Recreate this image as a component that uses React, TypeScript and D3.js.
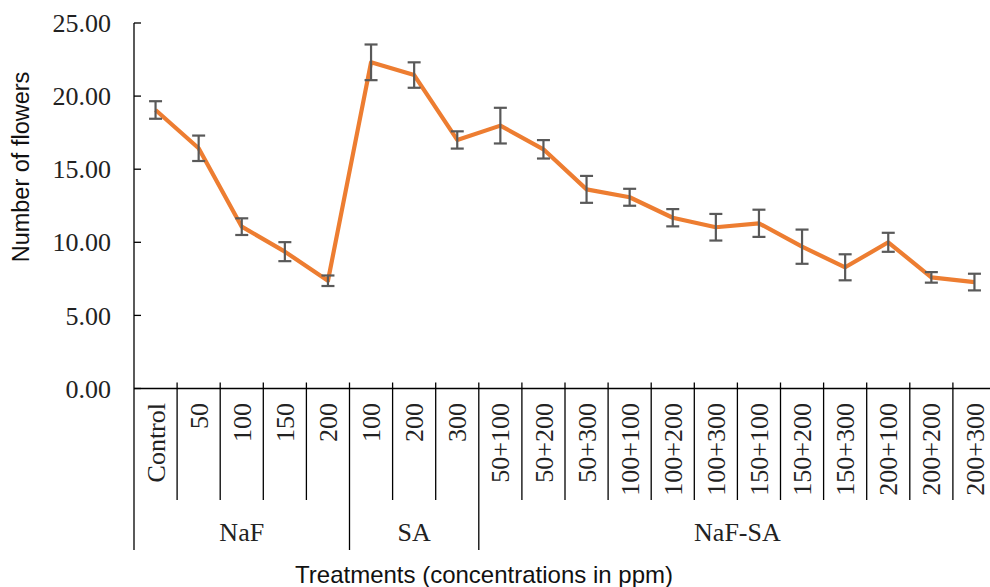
import React from 'react';
import * as d3 from 'd3';

// treatment labels (x axis, rotated)
const treatments = [
    'Control', '50', '100', '150', '200',
    '100', '200', '300',
    '50+100', '50+200', '50+300', '100+100', '100+200', '100+300',
    '150+100', '150+200', '150+300', '200+100', '200+200', '200+300'
];

// mean number of flowers and error (±)
const flowers = [
    19.05, 16.43, 11.07, 9.36, 7.37,
    22.31, 21.44, 17.0,
    17.98, 16.36, 13.62, 13.08, 11.68, 11.03,
    11.3, 9.7, 8.29, 10.0, 7.6, 7.28
];
const errors = [
    0.6, 0.87, 0.57, 0.65, 0.36,
    1.22, 0.87, 0.59,
    1.22, 0.63, 0.92, 0.58, 0.59, 0.91,
    0.93, 1.17, 0.89, 0.65, 0.36, 0.57
];

// treatment groups (first and last treatment index)
const groupNames = ['NaF', 'SA', 'NaF-SA'];
const groupStart = [0, 5, 8];
const groupEnd = [4, 7, 19];

const yTicks = [0, 5, 10, 15, 20, 25];

const SERIF = '"Liberation Serif", "Times New Roman", serif';
const SANS = '"Liberation Sans", Arial, sans-serif';

const App = () => {
    const width = 990, height = 587;
    const left = 134, right = 996, top = 23, bottom = 388.5;

    const keys = treatments.map((_, i) => String(i));
    const x = d3.scaleBand().domain(keys).range([left, right]).padding(0);
    const y = d3.scaleLinear().domain([0, 25]).range([bottom, top]);
    const bw = x.bandwidth();
    const cx = (i: number) => (x(String(i)) as number) + bw / 2;

    const line = d3.line<number>()
        .x((_, i) => cx(i))
        .y((d) => y(d));

    const groupEdges = groupStart.slice(1).map((s) => x(String(s)) as number);

    return (
        <div style={{ position: 'absolute', left: 0, top: 0, width, height, overflow: 'hidden', background: '#fff' }}>
            <svg width={width} height={height} style={{ display: 'block' }}>
                {/* y axis */}
                <line x1={left} x2={left} y1={top} y2={550} stroke="#000" strokeWidth={1.3} />
                {yTicks.map((t) => (
                    <g key={t}>
                        <line x1={left} x2={left + 7} y1={y(t)} y2={y(t)} stroke="#000" strokeWidth={1.3} />
                        <text x={111} y={y(t)} dy="0.35em" textAnchor="end"
                            style={{ fontFamily: SERIF, fontSize: 26 }} fill="#222">
                            {d3.format('.2f')(t)}
                        </text>
                    </g>
                ))}

                {/* x axis */}
                <line x1={left} x2={right} y1={bottom} y2={bottom} stroke="#000" strokeWidth={1.3} />
                {keys.slice(1).map((k) => (
                    <line key={k} x1={x(k)} x2={x(k)} y1={bottom - 6}
                        y2={groupEdges.includes(x(k) as number) ? 550 : 500}
                        stroke="#000" strokeWidth={1.3} />
                ))}
                {treatments.map((t, i) => (
                    <text key={i} transform={`translate(${cx(i)},403) rotate(-90)`} dy="0.35em"
                        textAnchor="end" style={{ fontFamily: SERIF, fontSize: 26 }} fill="#222">
                        {t}
                    </text>
                ))}
                {groupNames.map((g, i) => {
                    const x0 = x(String(groupStart[i])) as number;
                    const x1 = (x(String(groupEnd[i])) as number) + bw;
                    return (
                        <text key={g} x={(x0 + x1) / 2} y={541} textAnchor="middle"
                            style={{ fontFamily: SERIF, fontSize: 26 }} fill="#222">
                            {g}
                        </text>
                    );
                })}

                {/* series */}
                <path d={line(flowers) || ''} fill="none" stroke="#ED7D31" strokeWidth={4.2} strokeLinejoin="round" />
                {flowers.map((v, i) => (
                    <g key={i} stroke="#595959" strokeWidth={2.2}>
                        <line x1={cx(i)} x2={cx(i)} y1={y(v - errors[i])} y2={y(v + errors[i])} />
                        <line x1={cx(i) - 6.5} x2={cx(i) + 6.5} y1={y(v - errors[i])} y2={y(v - errors[i])} />
                        <line x1={cx(i) - 6.5} x2={cx(i) + 6.5} y1={y(v + errors[i])} y2={y(v + errors[i])} />
                    </g>
                ))}

                {/* axis titles */}
                <text x={484} y={583} textAnchor="middle" style={{ fontFamily: SANS, fontSize: 24 }} fill="#111">
                    Treatments (concentrations in ppm)
                </text>
                <text transform="translate(29,167) rotate(-90)" textAnchor="middle"
                    style={{ fontFamily: SANS, fontSize: 23.5 }} fill="#111">
                    Number of flowers
                </text>
            </svg>
        </div>
    );
};

export default App;
